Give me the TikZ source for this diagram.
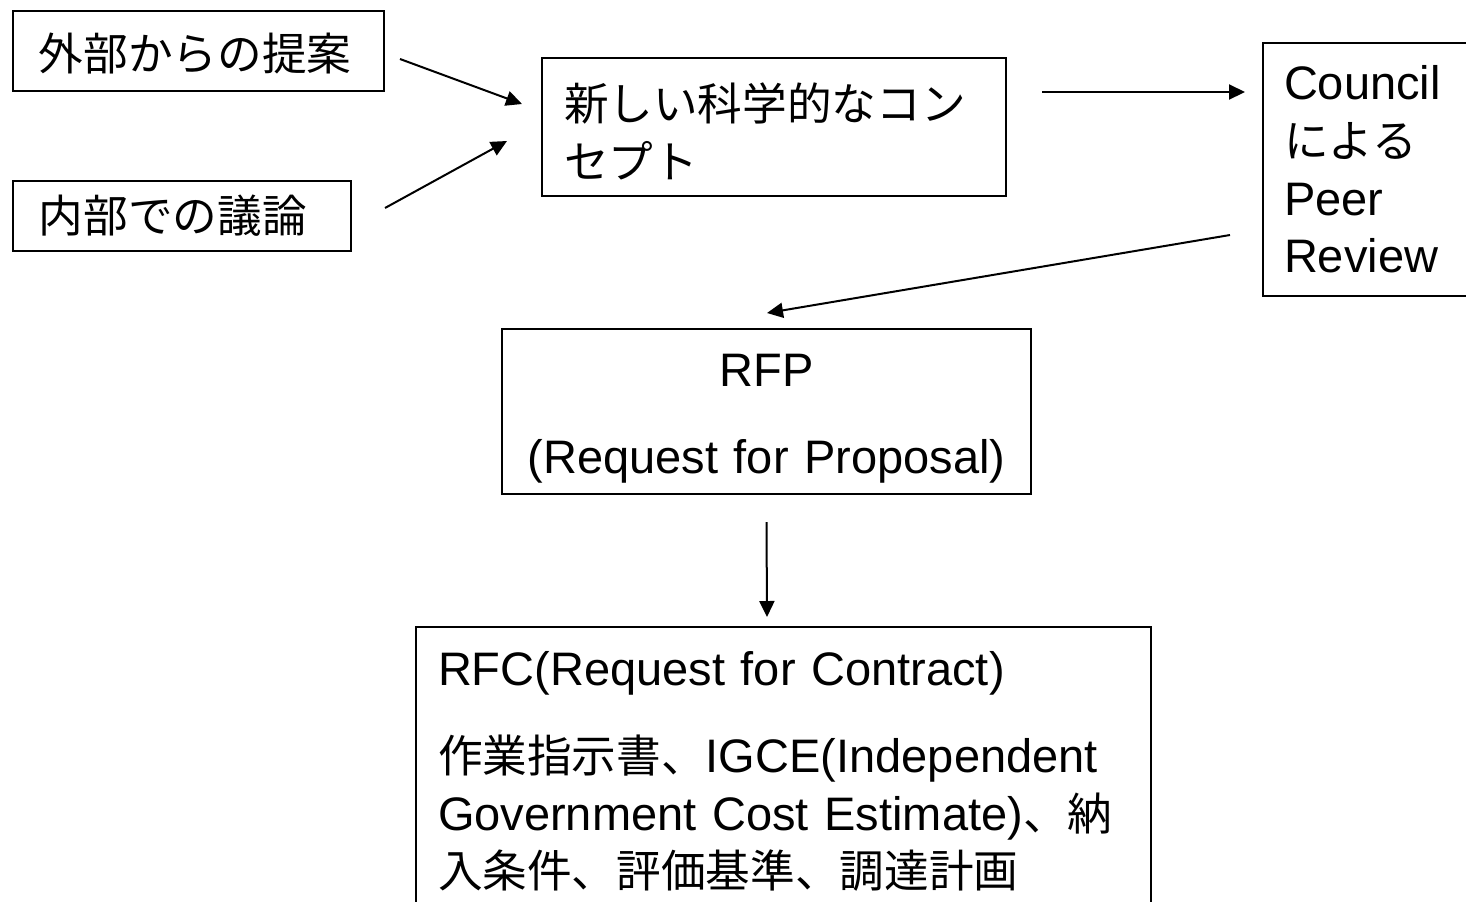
\documentclass[tikz,border=0pt]{standalone}
\usepackage{fontspec}
\setmainfont{Liberation Sans}
\newfontfamily\jp[Scale=0.95]{Noto Sans CJK JP}
\usetikzlibrary{arrows.meta}
\begin{document}
\begin{tikzpicture}[x=0.5pt,y=-0.5pt,
  box/.style={draw, line width=1pt, anchor=north west, inner ysep=0pt, align=left,
    font=\fontsize{23.5}{28.85}\selectfont},
  arr/.style={line width=1pt, -{Triangle[length=8pt,width=7.5pt]}}]
\useasboundingbox (0,0) rectangle (1466,901);
\clip (0,0) rectangle (1466,901);

\node[box, text width=159.5pt, inner xsep=13pt, minimum height=40pt] (b1) at (12,10) {\jp\rule{0pt}{21pt}外部からの提案};
\node[box, text width=143pt, inner xsep=13pt, minimum height=35pt] (b2) at (12,180) {\jp 内部での議論};
\node[box, text width=210pt, inner xsep=11pt, minimum height=69pt] (b3) at (541,57) {\jp\rule{0pt}{23pt}新しい科学的なコン\\セプト};
\node[box, text width=96pt, inner xsep=10.5pt, minimum height=126.5pt] (b4) at (1262,42) {Council\\{\jp による}\\Peer\\Review};
\node[box, align=center, text width=264.5pt, inner xsep=0pt, minimum height=82.5pt] (b5) at (501,328) {\rule{0pt}{23pt}RFP\\[14.6pt](Request for Proposal)};
\node[box, text width=345.5pt, inner xsep=11pt, minimum height=144.5pt] (b6) at (415,626) {RFC(Request for Contract)\\[14.6pt]{\jp 作業指示書、}IGCE(Independent\\Government Cost Estimate){\jp 、納}\\{\jp 入条件、評価基準、調達計画}};

\draw[arr] ([shift={(15,8)}]b1.east) -- ([shift={(-19,-23)}]b3.west);
\draw[arr] ([shift={(33,-8)}]b2.east) -- ([shift={(-34,14)}]b3.west);
\draw[arr] ([shift={(35,-35)}]b3.east) -- ([shift={(-17,-77.5)}]b4.west);
\draw[arr] ([shift={(-32,65.5)}]b4.west) -- ([shift={(0.5,-15)}]b5.north);
\draw[arr] ([shift={(0,27)}]b5.south) -- ([shift={(-16.5,-9)}]b6.north);
\end{tikzpicture}
\end{document}
